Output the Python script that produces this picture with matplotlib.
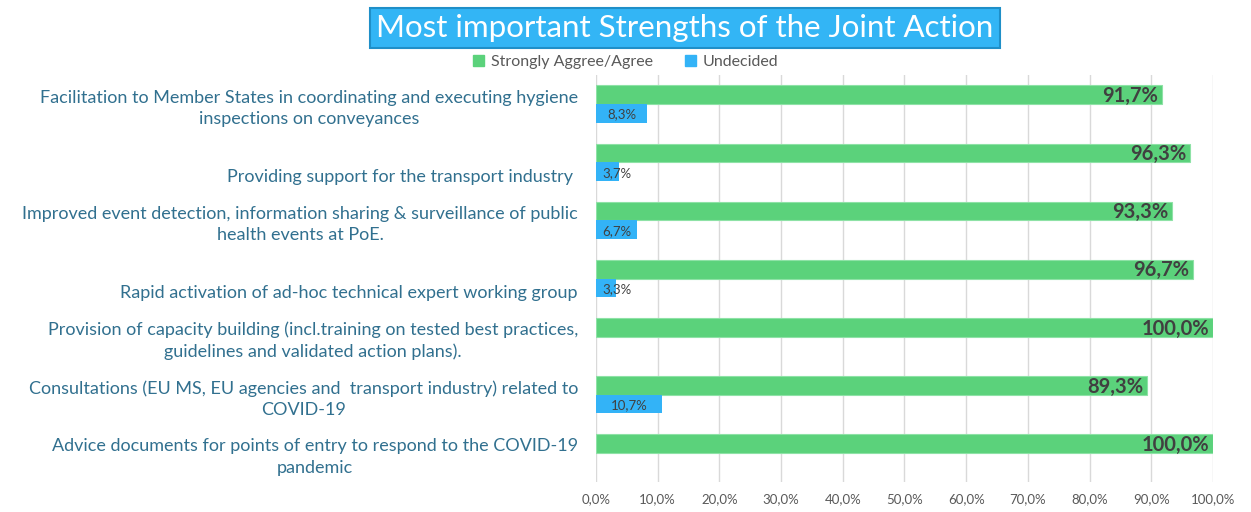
import numpy as np
import matplotlib.pyplot as plt
from matplotlib.patches import Patch

plt.rcParams['font.family'] = ['Lato', 'DejaVu Sans']

# data, top to bottom as in the chart
categories = [
    "Facilitation to Member States in coordinating and executing hygiene\ninspections on conveyances",
    "\nProviding support for the transport industry ",
    "Improved event detection, information sharing & surveillance of public\nhealth events at PoE.",
    "\nRapid activation of ad-hoc technical expert working group",
    "Provision of capacity building (incl.training on tested best practices,\nguidelines and validated action plans).",
    "Consultations (EU MS, EU agencies and  transport industry) related to\nCOVID-19",
    "Advice documents for points of entry to respond to the COVID-19\npandemic",
]
agree = [91.7, 96.3, 93.3, 96.7, 100.0, 89.3, 100.0]
undecided = [8.3, 3.7, 6.7, 3.3, 0.0, 10.7, 0.0]
xticks = np.arange(0, 101, 10)

green = '#5BD27B'
blue = '#33B3F7'
label_col = '#31708F'
gray_txt = '#595959'

fig = plt.figure(figsize=(12.51, 5.12), dpi=100)
ax = fig.add_axes([0.4764, 0.0586, 0.4932, 0.7949])

y = np.arange(len(categories))
h = 0.32
ax.barh(y - h/2, agree, height=h, color=green, edgecolor='#8EE2A6', linewidth=0.8, zorder=3)
ax.barh(y + h/2, undecided, height=h, color=blue, zorder=3)

for yi, v in zip(y, agree):
    ax.text(v - 0.6, yi - h/2 + 0.02, f"{v:.1f}%".replace('.', ','), ha='right', va='center',
            fontsize=14.5, fontweight='bold', color='#404040', zorder=4)
for yi, v in zip(y, undecided):
    if v > 0:
        ax.text(max(v/2, 3.4), yi + h/2 + 0.02, f"{v:.1f}%".replace('.', ','), ha='center', va='center',
                fontsize=9.5, color='#404040', zorder=4)

ax.set_xlim(0, 100)
ax.set_ylim(len(categories) - 0.5, -0.5)
ax.set_xticks(xticks)
ax.set_xticklabels([f"{t:.1f}%".replace('.', ',') for t in xticks], fontsize=9.5, color=gray_txt)
ax.set_yticks(y)
ax.set_yticklabels(categories, fontsize=13, color=label_col, multialignment='center', linespacing=1.4)
ax.tick_params(axis='y', length=0, pad=13)
ax.tick_params(axis='x', length=0, pad=8)
ax.grid(axis='x', color='#D9D9D9', linewidth=1, zorder=0)
for s in ax.spines.values():
    s.set_visible(False)

fig.text(0.5475, 0.945, "Most important Strengths of the Joint Action", ha='center', va='center',
         fontsize=22.5, color='white',
         bbox=dict(boxstyle='square,pad=0.2', facecolor='#33B5F5', edgecolor='#1F8FC8', linewidth=1.5))

handles = [Patch(color=green, label='Strongly Aggree/Agree'), Patch(color=blue, label='Undecided')]
leg = fig.legend(handles=handles, loc='center', bbox_to_anchor=(0.5, 0.879), ncol=2, frameon=False,
                 fontsize=11.5, handlelength=0.7, handleheight=0.7, handletextpad=0.4, columnspacing=2.0)
for t in leg.get_texts():
    t.set_color(gray_txt)

fig.savefig('out.png', dpi=100)
